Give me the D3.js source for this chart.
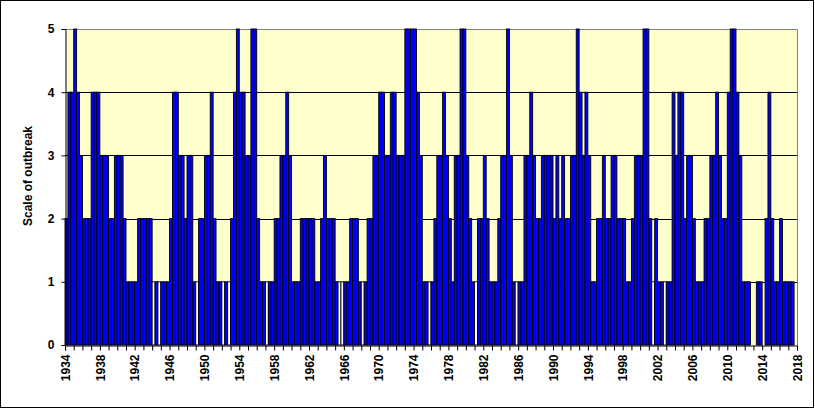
<!DOCTYPE html>
<html>
<head>
<meta charset="utf-8">
<script src="https://cdn.jsdelivr.net/npm/d3@7"></script>
<style>
  body { margin: 0; background: #fff; }
  svg { display: block; font-family: Arial, "Liberation Sans", sans-serif; }
  .tick text { font-weight: bold; font-size: 12px; fill: #000; }
</style>
</head>
<body>
<svg id="chart" width="815" height="409"></svg>
<script>
// three periods per year, 1934 - 2017
var firstYear = 1934;
var lastYear = 2018;

var outbreak = [
	2,4,4, 5,4,3, 2,2,2, 4,4,4, 3,3,3, 2,2,3, 3,3,2, 1,1,1, 1,2,2, 2,2,2,
	1,1,1, 1,1,1, 2,4,4, 3,3,2, 3,3,1, 1,2,2, 3,3,4, 2,1,1, 1,1,1, 2,4,5,
	4,4,3, 3,5,5, 2,1,1, 1,1,1, 2,2,3, 3,4,3, 1,1,1, 2,2,2, 2,2,1, 1,2,3,
	2,2,2, 1,1,1, 1,1,2, 2,2,1, 1,1,2, 2,3,3, 4,4,3, 3,4,4, 3,3,3, 5,5,5,
	5,4,3, 1,1,1, 1,2,3, 3,4,3, 2,1,3, 3,5,5, 3,2,1, 1,2,2, 3,2,1, 1,1,2,
	3,3,5, 3,1,1, 1,1,3, 3,4,3, 2,2,3, 3,3,3, 2,3,2, 3,2,2, 3,3,5, 4,3,4,
	3,1,1, 2,2,3, 2,2,3, 3,2,2, 2,1,1, 2,3,3, 3,5,5, 2,1,2, 1,1,1, 1,1,4,
	3,4,4, 2,3,3, 2,1,1, 1,2,2, 3,3,4, 3,2,2, 4,5,5, 4,3,1, 1,1,0, 0,1,1,
	0,2,4, 2,1,1, 2,1,1, 1,1,0
];

// periods drawn as white (hollow) bars
var hollowBars = [30, 32, 45, 54, 56, 69, 94, 95, 102, 125, 141, 155, 202, 206];

var yTicks = [0, 1, 2, 3, 4, 5];
var yTitle = 'Scale of outbreak';

var margin = {left: 65, right: 797, top: 29, bottom: 345};

var svg = d3.select('#chart');

// chart border
svg.append('rect')
	.attr('x', 0.5).attr('y', 0.5)
	.attr('width', 813).attr('height', 407)
	.attr('fill', '#fff').attr('stroke', '#000');

var x = d3.scaleBand()
	.domain(d3.range(outbreak.length))
	.range([margin.left, margin.right])
	.padding(0);

var xYear = d3.scaleLinear()
	.domain([firstYear, lastYear])
	.range([margin.left, margin.right]);

var y = d3.scaleLinear()
	.domain([0, 5])
	.range([margin.bottom, margin.top]);

// plot area
svg.append('rect')
	.attr('x', margin.left).attr('y', margin.top)
	.attr('width', margin.right - margin.left)
	.attr('height', margin.bottom - margin.top)
	.attr('fill', '#FFFFCC');

// grid
svg.append('g')
	.selectAll('line')
	.data(yTicks.filter(function(d) { return d > 0 && d < 5; }))
	.enter()
	.append('line')
	.attr('x1', margin.left).attr('x2', margin.right)
	.attr('y1', function(d) { return Math.round(y(d)) + 0.5; })
	.attr('y2', function(d) { return Math.round(y(d)) + 0.5; })
	.attr('stroke', '#000');

// top and right borders of the plot
svg.append('path')
	.attr('d', 'M' + margin.left + ',' + (margin.top + 0.5) + 'H' + (margin.right + 0.5) + 'V' + margin.bottom)
	.attr('fill', 'none')
	.attr('stroke', '#808080');

// bars
var bars = outbreak.map(function(v, i) {
	return {i: i, v: v, hollow: hollowBars.indexOf(i) >= 0};
}).filter(function(d) { return d.v > 0; });

svg.append('g')
	.selectAll('rect')
	.data(bars)
	.enter()
	.append('rect')
	.attr('x', function(d) { return x(d.i); })
	.attr('width', x.bandwidth())
	.attr('y', function(d) { return y(d.v); })
	.attr('height', function(d) { return y(0) - y(d.v); })
	.attr('fill', function(d) { return d.hollow ? '#FFFFFF' : '#0000FF'; })
	.attr('stroke', '#000')
	.attr('stroke-width', 0.9);

// y axis
var yAxis = d3.axisLeft(y)
	.tickValues(yTicks)
	.tickSize(4)
	.tickPadding(7)
	.tickFormat(d3.format('d'));
svg.append('g')
	.attr('transform', 'translate(' + (margin.left + 0.5) + ',0)')
	.call(yAxis)
	.call(function(g) {
		g.select('.domain').attr('stroke', '#000');
		g.selectAll('.tick line').attr('stroke', '#000');
	});

// x axis, tick every year, label every 4
var xAxis = d3.axisBottom(xYear)
	.tickValues(d3.range(firstYear, lastYear + 1))
	.tickSize(5)
	.tickFormat(function(d) { return (d - firstYear) % 4 == 0 ? d : ''; });
var gx = svg.append('g')
	.attr('transform', 'translate(0,' + (margin.bottom + 0.5) + ')')
	.call(xAxis);
gx.select('.domain').attr('stroke', '#000');
gx.selectAll('.tick line').attr('stroke', '#000');
gx.selectAll('.tick text')
	.attr('transform', 'rotate(-90)')
	.attr('text-anchor', 'end')
	.attr('x', -9)
	.attr('y', 0)
	.attr('dy', '0.35em');

svg.append('text')
	.attr('transform', 'translate(32,176) rotate(-90)')
	.attr('text-anchor', 'middle')
	.attr('font-weight', 'bold')
	.attr('font-size', '12px')
	.text(yTitle);
</script>
</body>
</html>
